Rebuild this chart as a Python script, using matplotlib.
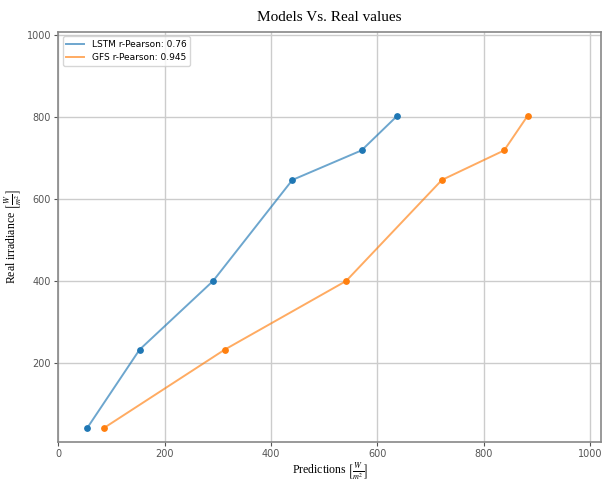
import matplotlib
matplotlib.use("Agg")
from matplotlib import pyplot as plt

# values
real_values = [43, 233, 400, 646, 718, 802]
lstm_pred = [55, 153, 291, 440, 570, 637]
gfs_pred = [87, 313, 541, 721, 838, 882]
lstm_label = "LSTM r-Pearson: 0.76"
gfs_label = "GFS r-Pearson: 0.945"

plt.rcParams["mathtext.fontset"] = "stix"

fig = plt.figure(figsize=(6.08, 4.83), dpi=100)
ax = fig.add_axes([0.0957, 0.084, 0.8928, 0.8504])

ax.plot(lstm_pred, real_values, color="#1f77b4", alpha=0.65, lw=1.4, label=lstm_label)
ax.plot(gfs_pred, real_values, color="#ff7f0e", alpha=0.65, lw=1.4, label=gfs_label)
ax.scatter(lstm_pred, real_values, color="#1f77b4", s=15, zorder=3)
ax.scatter(gfs_pred, real_values, color="#ff7f0e", s=15, zorder=3)

ax.set_xlim(0, 1020)
ax.set_ylim(7, 1007)
ax.set_xticks([0, 200, 400, 600, 800, 1000])
ax.set_yticks([200, 400, 600, 800, 1000])
ax.grid(True, color="#cccccc", lw=1)
ax.set_axisbelow(True)
ax.tick_params(labelsize=7, colors="#555555", length=3, pad=2)
for s in ax.spines.values():
    s.set_color("#888888")
    s.set_linewidth(1.2)

ax.set_title("Models Vs. Real values", family="Liberation Serif", fontsize=11, pad=8)
ax.set_xlabel(r"Predictions $\left[\frac{W}{m^2}\right]$", family="Liberation Serif",
              fontsize=8.5, labelpad=1)
ax.set_ylabel(r"Real irradiance $\left[\frac{W}{m^2}\right]$", family="Liberation Serif",
              fontsize=8.5, labelpad=1)
ax.legend(loc="upper left", fontsize=6.5, framealpha=0.8)

plt.savefig("out.png")
